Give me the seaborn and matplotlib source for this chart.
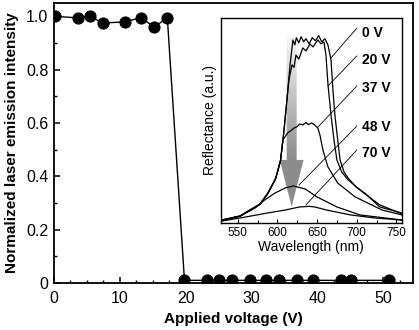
import numpy as np
import pandas as pd
import matplotlib
matplotlib.use("Agg")
import matplotlib.pyplot as plt
import seaborn as sns
from matplotlib.patches import Polygon
from matplotlib.colors import LinearSegmentedColormap
from matplotlib.ticker import MultipleLocator

# ---------------- data ----------------
voltage = [0.2, 3.7, 5.5, 7.4, 10.7, 13.2, 15.2, 17.2,
           19.8, 23.2, 25.0, 27.0, 29.8, 32.2, 34.1, 36.9, 39.3, 43.5, 45.1, 50.8]
intensity = [1.0, 0.994, 1.0, 0.975, 0.979, 0.995, 0.96, 0.994,
             0.01, 0.01, 0.01, 0.01, 0.01, 0.01, 0.01, 0.01, 0.01, 0.01, 0.01, 0.01]
x_ticks = [0, 10, 20, 30, 40, 50]
y_ticks = [0, 0.2, 0.4, 0.6, 0.8, 1.0]
y_ticklabels = ["0", "0.2", "0.4", "0.6", "0.8", "1.0"]

# inset spectra (wavelength nm, reflectance a.u.)
wl_0V = [530, 553, 565, 578, 588, 598, 604, 608, 612, 616, 619.6, 622, 624, 627, 630, 633,
         636, 640, 644, 648, 652, 656, 660, 663.8, 667.6, 670, 672.5, 676, 679, 684, 689,
         699, 710, 729, 757]
r_0V = [0.013, 0.033, 0.062, 0.091, 0.145, 0.219, 0.307, 0.439, 0.600, 0.772, 0.894, 0.87,
        0.905, 0.88, 0.91, 0.885, 0.90, 0.875, 0.905, 0.89, 0.915, 0.885, 0.90, 0.869, 0.796,
        0.649, 0.526, 0.405, 0.307, 0.248, 0.219, 0.175, 0.145, 0.077, 0.047]
wl_20V = [530, 553, 565, 578, 588, 598, 604, 608, 612, 614.6, 618.4, 621, 623.4, 627, 632,
          636, 641, 645, 651, 655, 658.7, 661.2, 663.8, 667.6, 671.3, 675, 681, 689, 704,
          729, 757]
r_20V = [0.012, 0.032, 0.060, 0.090, 0.143, 0.217, 0.305, 0.437, 0.598, 0.699, 0.772, 0.76,
         0.82, 0.80, 0.855, 0.84, 0.874, 0.86, 0.894, 0.875, 0.884, 0.82, 0.674, 0.526, 0.405,
         0.307, 0.248, 0.21, 0.16, 0.087, 0.043]
wl_37V = [530, 553, 565, 578, 588, 598, 604, 607, 613, 617, 621, 625, 628, 632, 636, 639,
          643, 647, 651, 653.6, 657.4, 663.7, 676, 698, 732, 757]
r_37V = [0.012, 0.031, 0.059, 0.089, 0.142, 0.216, 0.303, 0.405, 0.439, 0.45, 0.463, 0.47,
         0.483, 0.478, 0.49, 0.48, 0.488, 0.478, 0.463, 0.429, 0.356, 0.273, 0.194, 0.126,
         0.062, 0.038]
wl_48V = [530, 553, 572, 584, 597, 610, 620, 635, 650, 675, 704, 757]
r_48V = [0.013, 0.033, 0.072, 0.111, 0.145, 0.17, 0.18, 0.165, 0.126, 0.077, 0.038, 0.013]
wl_70V = [530, 553, 587, 610, 628, 640, 647, 662, 692, 723, 757]
r_70V = [0.008, 0.023, 0.047, 0.062, 0.077, 0.08, 0.077, 0.062, 0.038, 0.023, 0.013]
spectra_labels = ["0 V", "20 V", "37 V", "48 V", "70 V"]
inset_ticks = [550, 600, 650, 700, 750]

# ---------------- style ----------------
sns.set_theme(style="ticks")
plt.rcParams["font.family"] = ["Liberation Sans", "DejaVu Sans"]
plt.rcParams["axes.linewidth"] = 1.3

fig = plt.figure(figsize=(4.19, 3.30), dpi=100)
ax = fig.add_axes([0.1289, 0.1424, 0.857, 0.8485])

main_df = pd.DataFrame({"V": voltage, "I": intensity})
sns.lineplot(data=main_df, x="V", y="I", ax=ax, color="black", lw=1.0,
             marker="o", markersize=8, markeredgecolor="black", markerfacecolor="black",
             sort=False, estimator=None)
ax.set_xlim(0, 54.5)
ax.set_ylim(0, 1.05)
ax.set_xticks(x_ticks)
ax.set_yticks(y_ticks)
ax.set_yticklabels(y_ticklabels)
ax.xaxis.set_minor_locator(MultipleLocator(2.5))
ax.yaxis.set_minor_locator(MultipleLocator(0.1))
ax.tick_params(which="both", direction="in", top=False, right=False, labelsize=11.5,
               color="black", labelcolor="black")
ax.tick_params(which="major", length=4, width=1.1, pad=4)
ax.tick_params(axis="x", which="major", pad=6)
ax.tick_params(which="minor", length=2.5, width=1.0)
for s in ax.spines.values():
    s.set_color("black")
    s.set_linewidth(1.3)
ax.set_xlabel("Applied voltage (V)", fontsize=11, fontweight="bold", color="black", labelpad=4)
ax.set_ylabel("Normalized laser emission intensity", fontsize=11, fontweight="bold",
              color="black", labelpad=5)

# ---------------- inset ----------------
axi = fig.add_axes([0.5267, 0.3252, 0.4327, 0.6194])
axi.set_facecolor("white")

# gradient arrow
c, sw, hw = 618.0, 6.3, 15.0
top, hstart, tip = 0.904, 0.307, 0.078
arrow = Polygon([[c - sw, top], [c + sw, top], [c + sw, hstart], [c + hw, hstart],
                 [c, tip], [c - hw, hstart], [c - sw, hstart]], closed=True,
                transform=axi.transData, facecolor="none", edgecolor="none")
axi.add_patch(arrow)
yy = np.linspace(tip, top, 200)
grad = np.clip((yy - hstart) / (top - hstart), 0, 1)[:, None] * np.ones((1, 10))
cmap = LinearSegmentedColormap.from_list("g", ["#8c8c8c", "#f6f6f6"])
im = axi.imshow(grad, extent=[c - hw, c + hw, tip, top], origin="lower", aspect="auto",
                cmap=cmap, vmin=0, vmax=1, zorder=1)
im.set_clip_path(arrow)

for wl, r in [(wl_0V, r_0V), (wl_20V, r_20V), (wl_37V, r_37V), (wl_48V, r_48V), (wl_70V, r_70V)]:
    sns.lineplot(x=wl, y=r, ax=axi, color="black", lw=0.9, sort=False, estimator=None, zorder=3)

axi.set_xlim(528.6, 757)
axi.set_ylim(0, 1)
axi.set_xticks(inset_ticks)
axi.xaxis.set_minor_locator(MultipleLocator(25))
axi.set_yticks([])
axi.tick_params(which="both", direction="in", top=False, labelsize=8.5, color="black",
                labelcolor="black", pad=3)
axi.tick_params(which="major", length=3, width=0.8)
axi.tick_params(which="minor", length=2, width=0.8)
for s in axi.spines.values():
    s.set_color("black")
    s.set_linewidth(1.0)
axi.set_xlabel("Wavelength (nm)", fontsize=10, color="black", labelpad=1)
axi.set_ylabel("Reflectance (a.u.)", fontsize=10, color="black", labelpad=3)

# leader lines and labels
lead_start = [(700.2, 0.952), (700.2, 0.816), (700.2, 0.669), (700.2, 0.473), (700.2, 0.356)]
lead_end = [(667.5, 0.806), (663.7, 0.669), (651.1, 0.468), (627.2, 0.184), (636.0, 0.087)]
label_y = [0.928, 0.796, 0.659, 0.468, 0.341]
for lab, (x0, y0), (x1, y1), ly in zip(spectra_labels, lead_start, lead_end, label_y):
    axi.plot([x0, x1], [y0, y1], color="black", lw=0.6, zorder=4)
    axi.text(706.6, ly, lab, fontsize=10, fontweight="bold", color="black",
             ha="left", va="center", zorder=5)

fig.savefig("out.png", dpi=100)
